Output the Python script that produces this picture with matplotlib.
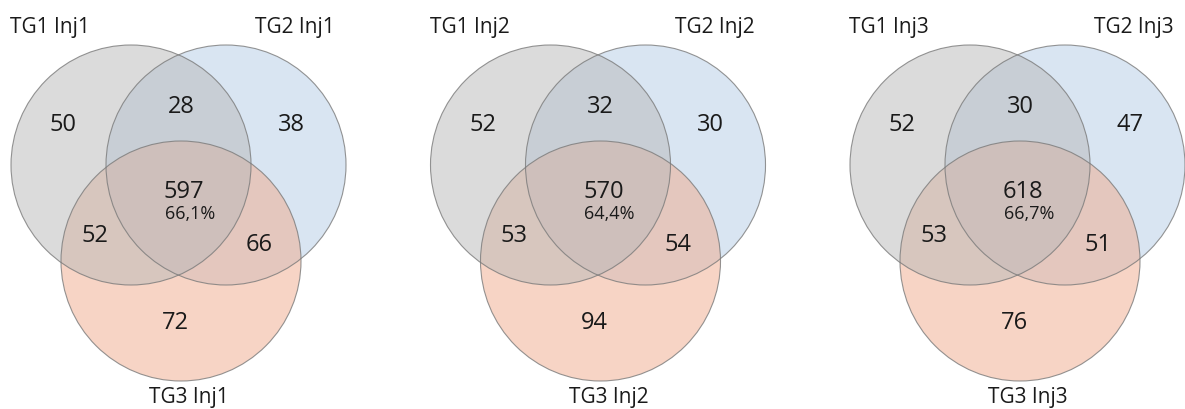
import matplotlib.pyplot as plt
from matplotlib.patches import Circle

# region counts per panel: only1, 1&2, only2, all, 1&3, 2&3, only3
injections = ["Inj1", "Inj2", "Inj3"]
only_tg1 = [50, 52, 52]
tg1_tg2 = [28, 32, 30]
only_tg2 = [38, 30, 47]
all_three = [597, 570, 618]
all_pct = ["66,1%", "64,4%", "66,7%"]
tg1_tg3 = [52, 53, 53]
tg2_tg3 = [66, 54, 51]
only_tg3 = [72, 94, 76]

set_names = ["TG1", "TG2", "TG3"]
fill_colors = ["#b9b9b9", "#b4cde6", "#f0ab8c"]

# circle geometry (pixel units, relative to panel origin)
centers = [(131, 165), (226, 165), (181, 261)]
radius = 120
panel_step = 419.5
# blue first, then orange, gray on top (matches the overlap tints)
draw_order = [1, 2, 0]

# text anchors relative to panel origin
region_pos = {
    "only1": (63, 125), "tg12": (181, 107), "only2": (291, 125),
    "all": (184, 192), "pct": (190, 214),
    "tg13": (95, 236), "tg23": (259, 245), "only3": (175, 323),
}
label_pos = [(50, 27), (295, 27), (189, 397)]

FONT = "Open Sans"

fig = plt.figure(figsize=(11.85, 4.09), dpi=100)
ax = fig.add_axes([0, 0, 1, 1])
ax.set_xlim(0, 1185)
ax.set_ylim(409, 0)
ax.set_aspect("equal")
ax.axis("off")

for p, inj in enumerate(injections):
    x0 = p * panel_step
    for i in draw_order:
        cx, cy = centers[i]
        ax.add_patch(Circle((x0 + cx, cy), radius, facecolor=fill_colors[i],
                            alpha=0.5, edgecolor="none"))
    for (cx, cy) in centers:
        ax.add_patch(Circle((x0 + cx, cy), radius, facecolor="none",
                            edgecolor="#7a7a7a", lw=0.8, alpha=0.8))

    values = {
        "only1": only_tg1[p], "tg12": tg1_tg2[p], "only2": only_tg2[p],
        "all": all_three[p], "tg13": tg1_tg3[p], "tg23": tg2_tg3[p],
        "only3": only_tg3[p],
    }
    for key, val in values.items():
        x, y = region_pos[key]
        ax.text(x0 + x, y, str(val), ha="center", va="center",
                fontsize=17, family=FONT, color="#1a1a1a")
    x, y = region_pos["pct"]
    ax.text(x0 + x, y, all_pct[p], ha="center", va="center",
            fontsize=13, family=FONT, color="#1a1a1a")

    for name, (x, y) in zip(set_names, label_pos):
        ax.text(x0 + x, y, f"{name} {inj}", ha="center", va="center",
                fontsize=15, family=FONT, color="#1a1a1a")

fig.savefig("out.png", dpi=100)
